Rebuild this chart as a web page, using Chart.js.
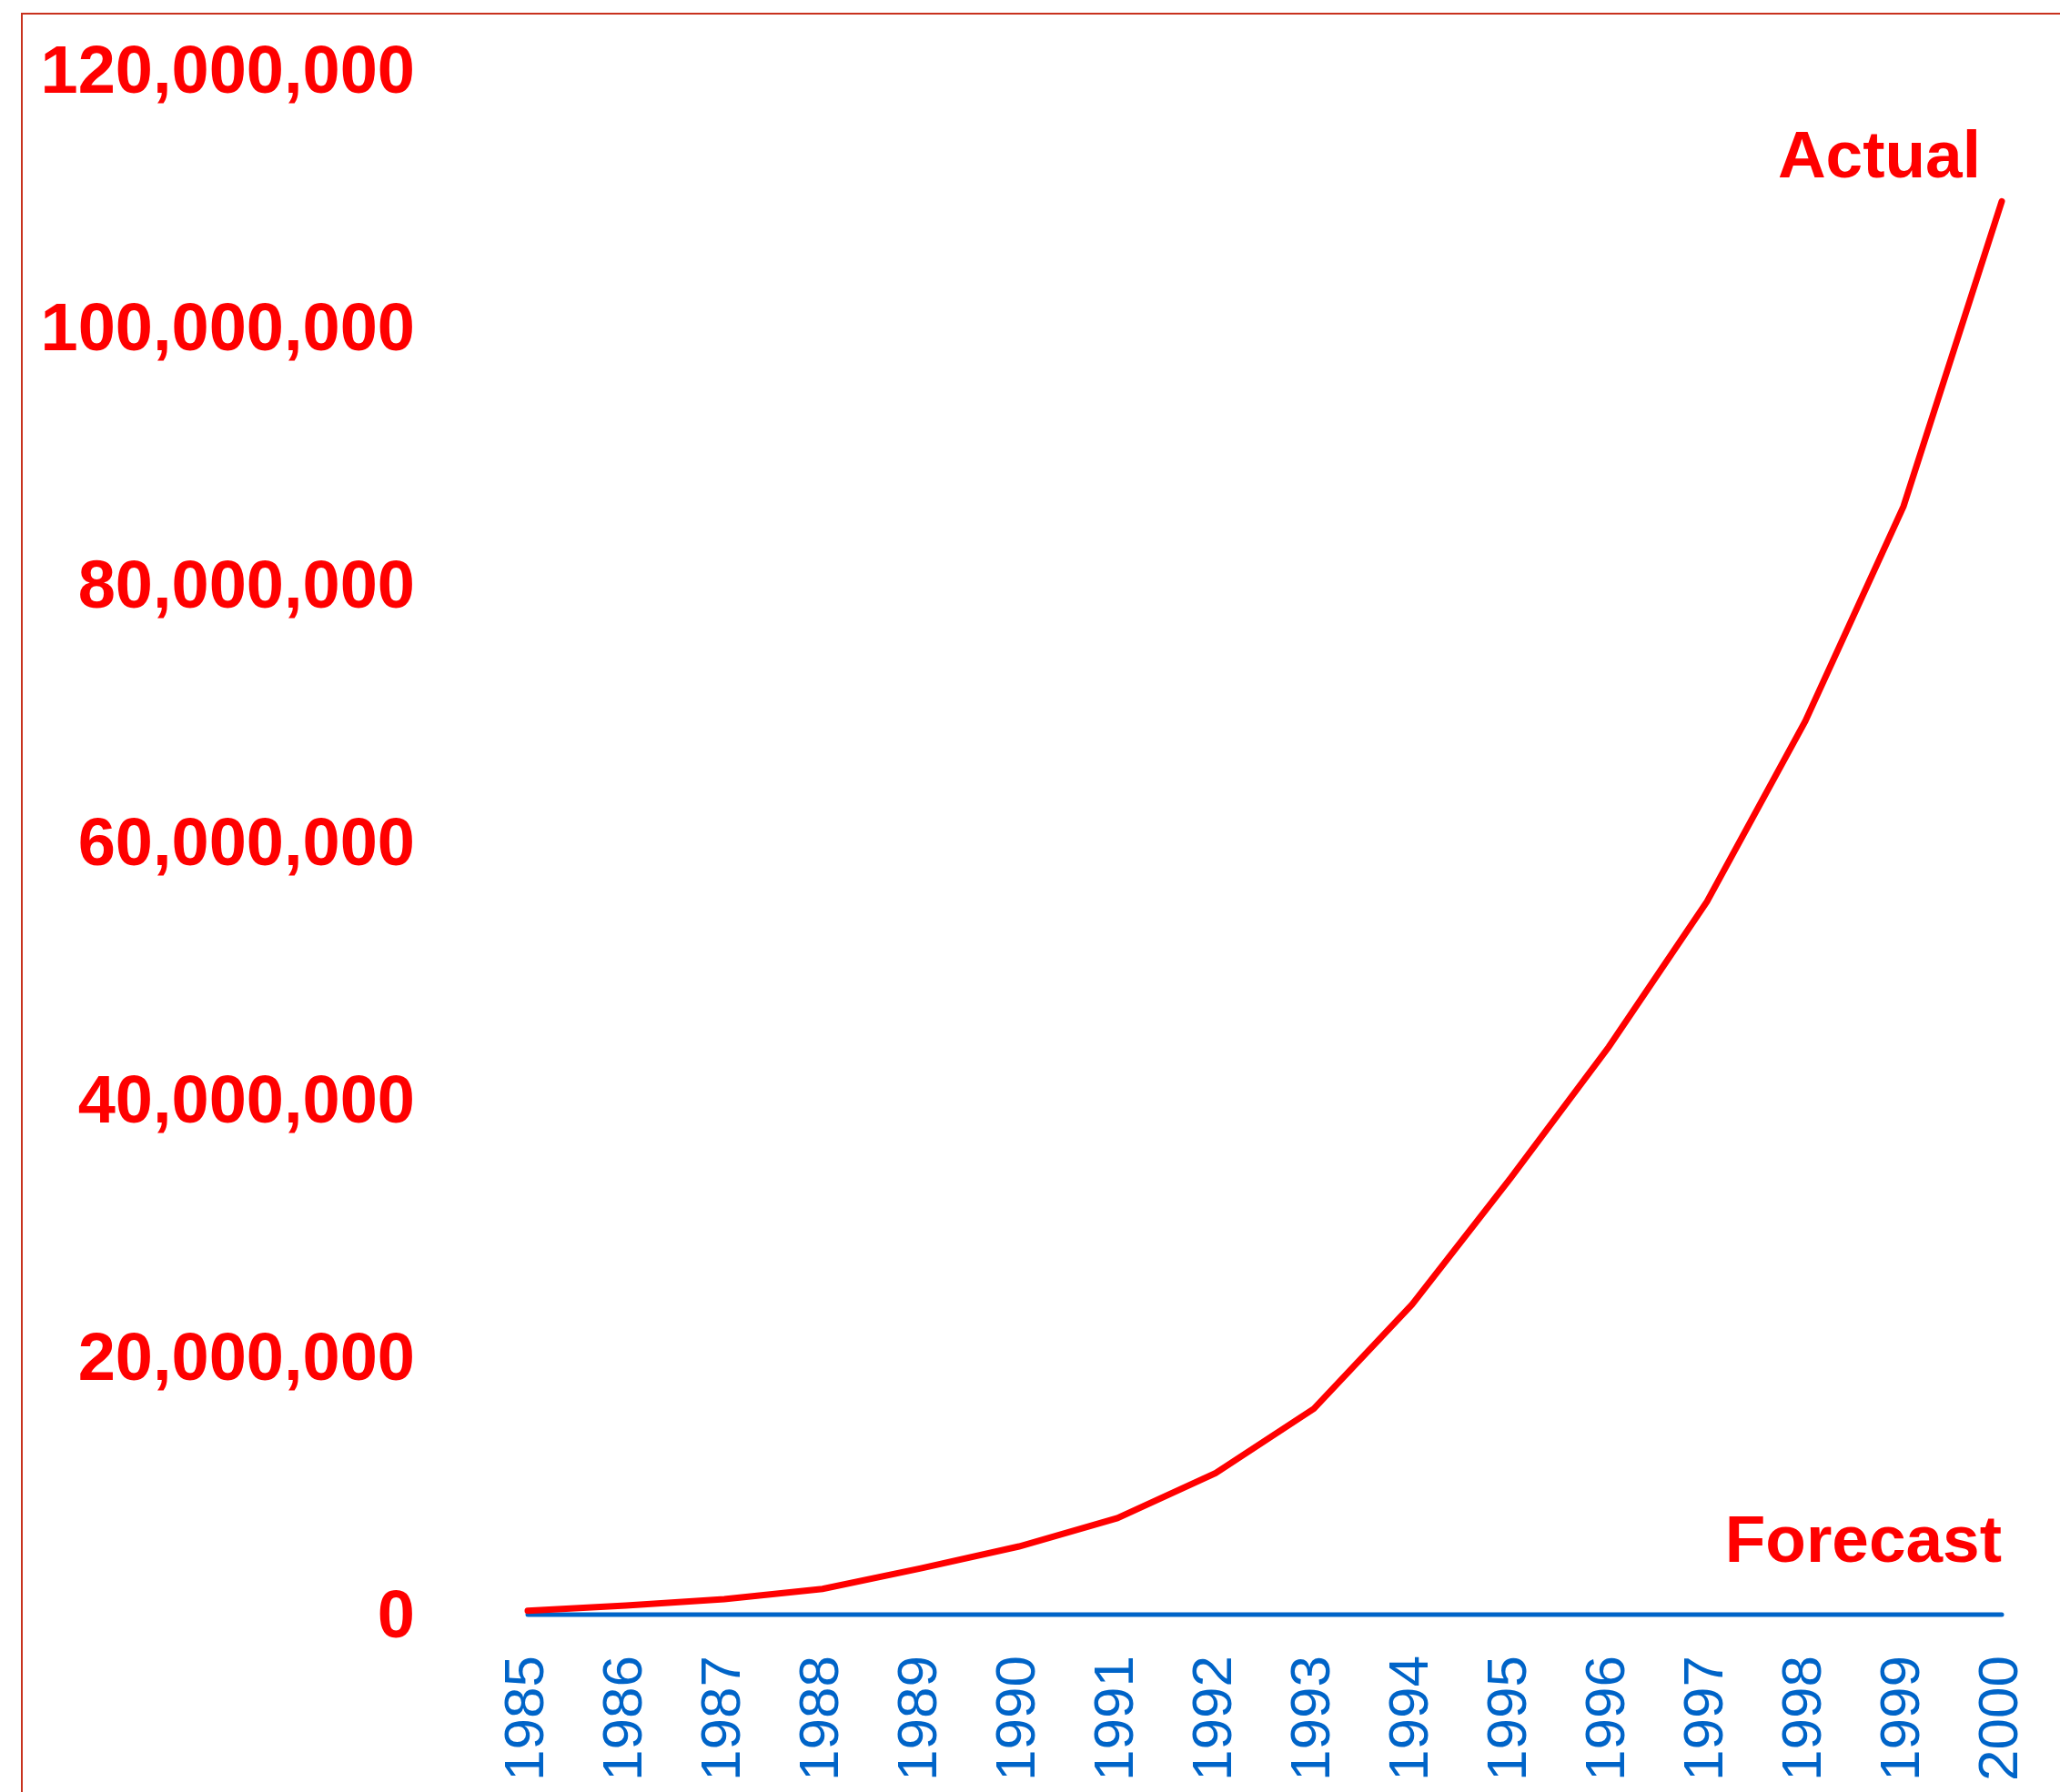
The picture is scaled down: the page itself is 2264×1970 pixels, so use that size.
<!DOCTYPE html>
<html>
<head>
<meta charset="utf-8">
<script src="https://cdn.jsdelivr.net/npm/chart.js@4"></script>
<style>
  html, body { margin: 0; padding: 0; background: #fff; overflow: hidden; }
  #frame {
    position: absolute; left: 23px; top: 14px; width: 3000px; height: 3000px;
    border-top: 2px solid #c8321e; border-left: 2px solid #c8321e;
  }
  #chart { position: absolute; left: 0; top: 0; }
</style>
</head>
<body>
<div id="frame"></div>
<canvas id="chart" width="2264" height="1970"></canvas>
<script>
// Years on the x axis
const years = ['1985', '1986', '1987', '1988', '1989', '1990', '1991', '1992',
               '1993', '1994', '1995', '1996', '1997', '1998', '1999', '2000'];

// Actual values
const actual = [300000, 700000, 1200000, 2000000, 3600000, 5300000, 7500000, 11000000,
                16000000, 24100000, 33900000, 44100000, 55400000, 69400000, 86100000, 109800000];

// Forecast values
const forecast = [0, 0, 0, 0, 0, 0, 0, 0, 0, 0, 0, 0, 0, 0, 0, 0];

// Y axis ticks
const yTicks = [0, 20000000, 40000000, 60000000, 80000000, 100000000, 120000000];

const RED = '#ff0000';
const BLUE = '#0064c8';
const FONT = "'Liberation Sans', Arial, Helvetica, sans-serif";

// Series names written next to the end of each line
const endLabels = {
  id: 'endLabels',
  afterDatasetsDraw(chart) {
    const ctx = chart.ctx;
    const offsets = [{ dx: -23, dy: -26 }, { dx: 0, dy: -58 }];
    ctx.save();
    ctx.font = 'bold 73px ' + FONT;
    ctx.fillStyle = RED;
    ctx.textAlign = 'right';
    ctx.textBaseline = 'alphabetic';
    chart.data.datasets.forEach((ds, i) => {
      const pts = chart.getDatasetMeta(i).data;
      const last = pts[pts.length - 1];
      ctx.fillText(ds.label, last.x + offsets[i].dx, last.y + offsets[i].dy);
    });
    ctx.restore();
  }
};

new Chart(document.getElementById('chart').getContext('2d'), {
  type: 'line',
  data: {
    labels: years,
    datasets: [
      {
        label: 'Actual',
        data: actual,
        borderColor: RED,
        borderWidth: 7,
        borderCapStyle: 'round',
        pointRadius: 0,
        tension: 0,
        fill: false,
        clip: false
      },
      {
        label: 'Forecast',
        data: forecast,
        borderColor: BLUE,
        borderWidth: 5,
        borderCapStyle: 'round',
        pointRadius: 0,
        tension: 0,
        fill: false,
        clip: false
      }
    ]
  },
  options: {
    responsive: false,
    animation: false,
    events: [],
    layout: { padding: { top: 77, right: 64, bottom: 0, left: 0 } },
    plugins: {
      legend: { display: false },
      tooltip: { enabled: false }
    },
    scales: {
      x: {
        grid: { display: false, drawTicks: false },
        border: { display: false },
        ticks: {
          color: BLUE,
          font: { family: FONT, size: 62 },
          minRotation: 90,
          maxRotation: 90,
          autoSkip: false,
          padding: 45
        },
        afterFit(scale) {
          scale.height = 195;
          scale.paddingLeft = 0;
          scale.paddingRight = 0;
        }
      },
      y: {
        min: yTicks[0],
        max: yTicks[yTicks.length - 1],
        grid: { display: false, drawTicks: false },
        border: { display: false },
        afterBuildTicks(scale) { scale.ticks = yTicks.map(v => ({ value: v })); },
        ticks: {
          color: RED,
          font: { family: FONT, size: 74, weight: 'bold' },
          padding: 124,
          labelOffset: 5,
          callback: v => v.toLocaleString('en-US')
        },
        afterFit(scale) {
          scale.width = 580;
          scale.paddingTop = 0;
          scale.paddingBottom = 0;
        }
      }
    }
  },
  plugins: [endLabels]
});
</script>
</body>
</html>
